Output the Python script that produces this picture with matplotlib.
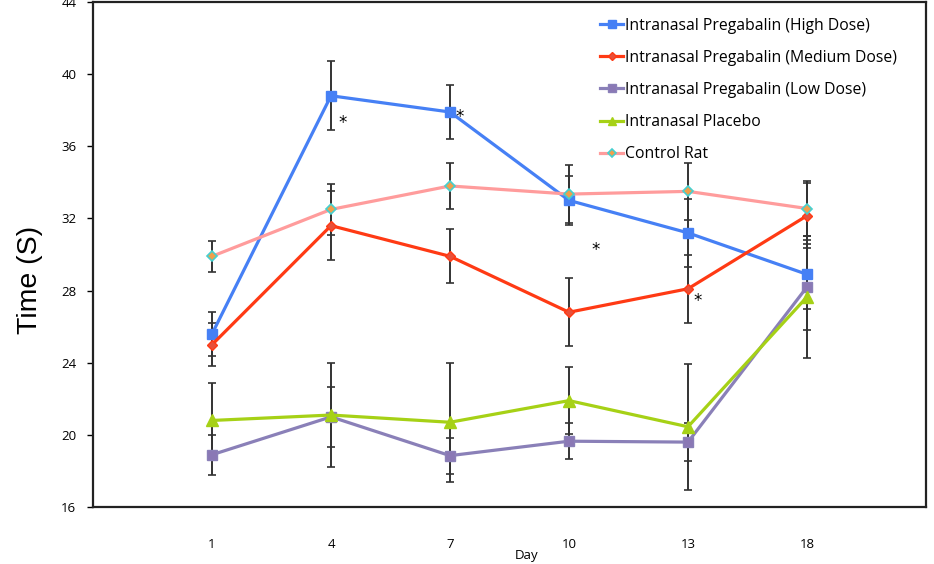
import matplotlib
matplotlib.use("Agg")
import matplotlib.pyplot as plt

days = ["1", "4", "7", "10", "13", "18"]

high_dose = [25.6, 38.8, 37.9, 33.0, 31.2, 28.9]
high_err = [1.2, 1.9, 1.5, 1.35, 1.9, 1.9]
medium_dose = [25.0, 31.6, 29.9, 26.8, 28.1, 32.15]
medium_err = [1.2, 1.9, 1.5, 1.9, 1.9, 1.8]
low_dose = [18.9, 21.0, 18.85, 19.65, 19.6, 28.2]
low_err = [1.1, 1.65, 1.0, 1.0, 1.05, 2.4]
placebo = [20.8, 21.1, 20.7, 21.9, 20.45, 27.65]
placebo_err = [2.1, 2.9, 3.3, 1.85, 3.5, 3.4]
control = [29.9, 32.5, 33.8, 33.35, 33.5, 32.55]
control_err = [0.85, 1.4, 1.25, 1.6, 1.6, 1.55]

# significance markers: (category position, y)
star_x = [2.1, 3.08, 4.22, 5.08]
star_y = [37.3, 37.65, 30.25, 27.45]

series = [
    ("Intranasal Pregabalin (High Dose)", high_dose, high_err,
     dict(color="#4680f5", marker="s", ms=7, mfc="#4680f5", mec="#4680f5")),
    ("Intranasal Pregabalin (Medium Dose)", medium_dose, medium_err,
     dict(color="#ff3a14", marker="D", ms=5.5, mfc="#e8503a", mec="#ff3a14")),
    ("Intranasal Pregabalin (Low Dose)", low_dose, low_err,
     dict(color="#8a80b8", marker="s", ms=7, mfc="#8a78b5", mec="#8a80b8")),
    ("Intranasal Placebo", placebo, placebo_err,
     dict(color="#a6d116", marker="^", ms=8, mfc="#a6d116", mec="#a6d116")),
    ("Control Rat", control, control_err,
     dict(color="#ff9c9c", marker="D", ms=5.5, mfc="#f0a04c", mec="#45d0d0",
          mew=1.2)),
]

fig = plt.figure(figsize=(9.34, 5.64), dpi=100)
ax = fig.add_axes([0.0996, 0.101, 0.8918, 0.8955])

x = list(range(1, len(days) + 1))
for label, vals, errs, style in series:
    ax.errorbar(x, vals, yerr=errs, fmt="none", ecolor="#333333",
                elinewidth=1.4, capsize=3, capthick=1.2, zorder=2)
    ax.plot(x, vals, lw=2.3, label=label, zorder=3, **style)

for sx, sy in zip(star_x, star_y):
    ax.text(sx, sy, "*", fontsize=12, ha="center", va="center", color="black")

ax.set_xlim(0, 7)
ax.set_ylim(16, 44)
ax.set_yticks(range(16, 45, 4))
ax.set_xticks(x)
ax.set_xticklabels(days, fontfamily="Open Sans", fontsize=9.5)
ax.tick_params(axis="x", length=0, pad=22)
ax.tick_params(axis="y", length=4, width=1, labelsize=9.5, pad=8)
for lab in ax.get_yticklabels():
    lab.set_fontfamily("Open Sans")

for side in ["left", "bottom", "top", "right"]:
    ax.spines[side].set_linewidth(1.6)
    ax.spines[side].set_color("#222222")

fig.text(30 / 934, 1 - 280 / 564, "Time (S)", rotation=90, ha="center",
         va="center", fontsize=20.5, fontfamily="Liberation Sans")
fig.text(527 / 934, 1 - 556 / 564, "Day", ha="center", va="center",
         fontsize=9.5, fontfamily="Open Sans")

ax.legend(loc="upper right", bbox_to_anchor=(0.982, 0.997), frameon=False,
          prop={"family": "Open Sans", "size": 11.3}, handlelength=1.5,
          handletextpad=0.1, labelspacing=1.03, markerscale=0.8)

fig.savefig("out.png", dpi=100)
